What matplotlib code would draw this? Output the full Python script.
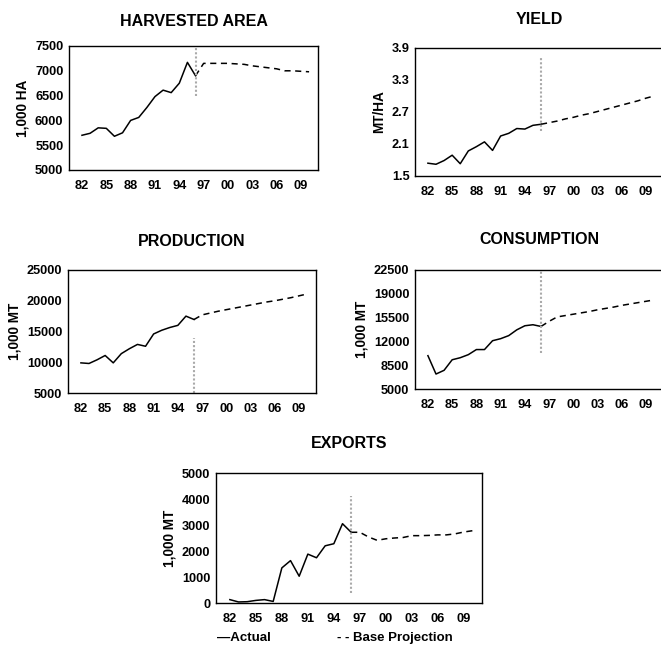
import numpy as np
import matplotlib.pyplot as plt

plt.rcParams['font.family'] = ['Liberation Sans', 'DejaVu Sans']
plt.rcParams['font.weight'] = 'bold'

# ---- data --------------------------------------------------------------
actual_years = np.arange(1982, 1997)
proj_years = np.arange(1996, 2011)

area_actual = [5700, 5740, 5850, 5840, 5680, 5750, 6000, 6060, 6260, 6480,
               6610, 6560, 6750, 7170, 6900]
area_proj = [6900, 7150, 7150, 7150, 7150, 7140, 7130, 7100, 7080, 7060,
             7040, 7000, 7000, 6990, 6980]

yield_actual = [1.74, 1.72, 1.79, 1.89, 1.73, 1.97, 2.05, 2.14, 1.98, 2.25,
                2.30, 2.39, 2.38, 2.45, 2.47]
yield_proj = [2.47, 2.50, 2.53, 2.57, 2.60, 2.64, 2.67, 2.71, 2.75, 2.79,
              2.83, 2.87, 2.91, 2.96, 3.00]

prod_actual = [9900, 9800, 10400, 11100, 9900, 11400, 12200, 12900, 12600,
               14600, 15200, 15650, 16000, 17500, 16950]
prod_proj = [16950, 17700, 18000, 18300, 18550, 18800, 19050, 19300, 19550,
             19800, 20000, 20250, 20500, 20800, 21100]

cons_actual = [9900, 7200, 7750, 9300, 9600, 10050, 10800, 10800, 12100,
               12400, 12850, 13700, 14300, 14450, 14200]
cons_proj = [14200, 14950, 15600, 15800, 16000, 16200, 16400, 16650, 16850,
             17050, 17300, 17500, 17700, 17900, 18100]

exp_actual = [130, 40, 50, 100, 130, 60, 1350, 1630, 1030, 1880, 1740, 2200,
              2280, 3050, 2720]
exp_proj = [2720, 2720, 2540, 2410, 2470, 2500, 2520, 2590, 2590, 2600, 2620,
            2620, 2660, 2730, 2780]

tick_years = np.arange(1982, 2010, 3)
tick_labels = ['%02d' % (y % 100) for y in tick_years]

W, H = 661, 645
fig = plt.figure(figsize=(W / 100, H / 100), dpi=100)


def panel(left, right, top, bottom, title, title_y, ylabel,
          actual, proj, ylim, yticks, yfmt, vline):
    ax = fig.add_axes([left / W, 1 - bottom / H, (right - left) / W,
                       (bottom - top) / H])
    ax.plot(actual_years, actual, color='black', lw=1.1)
    ax.plot(proj_years, proj, color='black', lw=1.1, dashes=(4, 3))
    # faint dotted marker at the start of the projection
    ax.axvline(1996, ymin=vline[0], ymax=vline[1], color='#aaaaaa',
               lw=1.5, ls=(0, (1, 1)))
    ax.set_xlim(1980.4, 2011.1)
    ax.set_ylim(*ylim)
    ax.set_xticks(tick_years)
    ax.set_xticklabels(tick_labels)
    ax.set_yticks(yticks)
    ax.set_yticklabels([yfmt % v for v in yticks])
    ax.tick_params(length=0, labelsize=9.2)
    ax.tick_params(axis='x', pad=7)
    ax.tick_params(axis='y', pad=4)
    for lab in ax.get_xticklabels() + ax.get_yticklabels():
        lab.set_fontweight('bold')
    for s in ax.spines.values():
        s.set_linewidth(1.0)
    ax.set_ylabel(ylabel, fontsize=9.8, fontweight='bold', labelpad=4)
    fig.text(((left + right) / 2) / W, 1 - title_y / H, title,
             ha='center', va='center', fontsize=11.5, fontweight='bold')
    return ax


panel(69, 318, 46, 170, 'HARVESTED AREA', 22, '1,000 HA',
      area_actual, area_proj, (5000, 7500), np.arange(5000, 7501, 500),
      '%d', (0.6, 1.0))
panel(415, 663, 48, 176, 'YIELD', 20, 'MT/HA',
      yield_actual, yield_proj, (1.5, 3.9), [1.5, 2.1, 2.7, 3.3, 3.9],
      '%.1f', (0.35, 0.92))
panel(68, 316, 270, 393, 'PRODUCTION', 242, '1,000 MT',
      prod_actual, prod_proj, (5000, 25000), np.arange(5000, 25001, 5000),
      '%d', (0.0, 0.45))
panel(415, 663, 270, 389, 'CONSUMPTION', 240, '1,000 MT',
      cons_actual, cons_proj, (5000, 22500), np.arange(5000, 22501, 3500),
      '%d', (0.3, 1.0))
panel(216, 482, 473, 603, 'EXPORTS', 444, '1,000 MT',
      exp_actual, exp_proj, (0, 5000), np.arange(0, 5001, 1000),
      '%d', (0.08, 0.82))

# legend line under the exports panel
fig.text(217 / W, 1 - 638 / H, '\u2014Actual', ha='left', va='center',
         fontsize=9.5, fontweight='bold')
fig.text(337 / W, 1 - 638 / H, '- - Base Projection', ha='left',
         va='center', fontsize=9.5, fontweight='bold')

fig.savefig('out.png', dpi=100)
